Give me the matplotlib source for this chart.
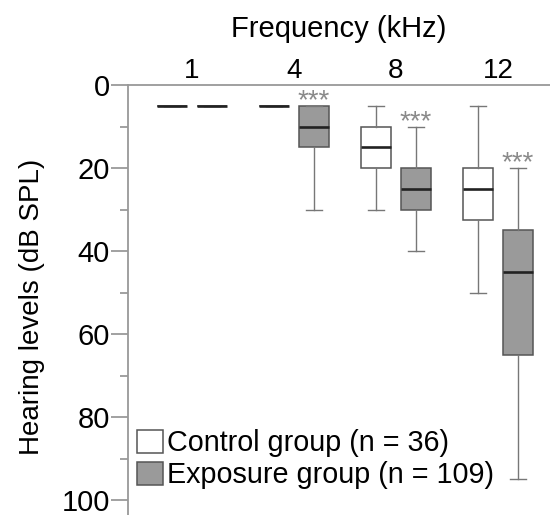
import matplotlib
matplotlib.use("Agg")
import matplotlib.pyplot as plt
from matplotlib.patches import Patch

plt.rcParams['font.family'] = ['Liberation Sans', 'DejaVu Sans']

frequencies = ["1", "4", "8", "12"]
group_names = ["Control group (n = 36)", "Exposure group (n = 109)"]

# control group stats per frequency: whislo, q1, med, q3, whishi
control_whislo = [5, 5, 5, 5]
control_q1 = [5, 5, 10, 20]
control_med = [5, 5, 15, 25]
control_q3 = [5, 5, 20, 32.5]
control_whishi = [5, 5, 30, 50]

exposure_whislo = [5, 5, 10, 20]
exposure_q1 = [5, 5, 20, 35]
exposure_med = [5, 10, 25, 45]
exposure_q3 = [5, 15, 30, 65]
exposure_whishi = [5, 30, 40, 95]

significance = ["", "***", "***", "***"]

fig = plt.figure(figsize=(5.5, 5.15), dpi=100)
ax = fig.add_axes([128/550, 0.0, 1 - 128/550, 1 - 85/515])

def stats(lo, q1, med, q3, hi):
    return [dict(whislo=a, q1=b, med=c, q3=d, whishi=e, fliers=[])
            for a, b, c, d, e in zip(lo, q1, med, q3, hi)]

pos = list(range(len(frequencies)))
off = 0.197
width = 0.3

common = dict(widths=width, patch_artist=True, showfliers=False,
              whiskerprops=dict(color="#777777", lw=1.0),
              capprops=dict(color="#777777", lw=1.0),
              medianprops=dict(color="#222222", lw=1.9, solid_capstyle='butt'))
ctrl = ax.bxp(stats(control_whislo, control_q1, control_med, control_q3, control_whishi),
              positions=[p - off for p in pos],
              boxprops=dict(facecolor="white", edgecolor="#555555", lw=1.1), **common)
expo = ax.bxp(stats(exposure_whislo, exposure_q1, exposure_med, exposure_q3, exposure_whishi),
              positions=[p + off for p in pos],
              boxprops=dict(facecolor="#9a9a9a", edgecolor="#555555", lw=1.1), **common)
for c in ctrl['caps'] + expo['caps']:
    x = c.get_xdata()
    mid = (x[0] + x[1]) / 2
    c.set_xdata([mid - 0.08, mid + 0.08])

for p, s, lo in zip(pos, significance, exposure_whislo):
    if s:
        ax.text(p + off, lo + 0.6, s, ha='center', va='baseline', fontsize=20,
                color="#8a8a8a")

ax.set_xlim(-0.627, 3.51)
ax.set_ylim(103.6, 0)
ax.xaxis.tick_top()
ax.xaxis.set_label_position('top')
ax.set_xticks(pos)
ax.set_xticklabels(frequencies, fontsize=20)
ax.tick_params(axis='x', length=0, pad=1)
ax.set_xlabel("Frequency (kHz)", fontsize=21, labelpad=15)

ax.set_yticks([0, 20, 40, 60, 80, 100])
ax.set_yticks([10, 30, 50, 70, 90], minor=True)
ax.tick_params(axis='y', which='major', length=12, width=1.1, color="#888888",
               labelsize=21, pad=1)
ax.tick_params(axis='y', which='minor', length=6, width=1.1, color="#888888")
ax.set_ylabel("Hearing levels (dB SPL)", fontsize=20)
ax.yaxis.set_label_coords(-0.197, 0.484)

for side in ['right', 'bottom']:
    ax.spines[side].set_visible(False)
for side in ['left', 'top']:
    ax.spines[side].set_color("#999999")
    ax.spines[side].set_linewidth(1.3)

handles = [Patch(facecolor="white", edgecolor="#555555", lw=1.1),
           Patch(facecolor="#9a9a9a", edgecolor="#555555", lw=1.1)]
ax.legend(handles, group_names, loc='lower left', bbox_to_anchor=(0.0, 0.04),
          frameon=False, fontsize=20.7, handlelength=0.91, handleheight=0.87,
          handletextpad=0.15, labelspacing=0.13, borderaxespad=0.2, borderpad=0.1)

fig.savefig("out.png", dpi=100)
